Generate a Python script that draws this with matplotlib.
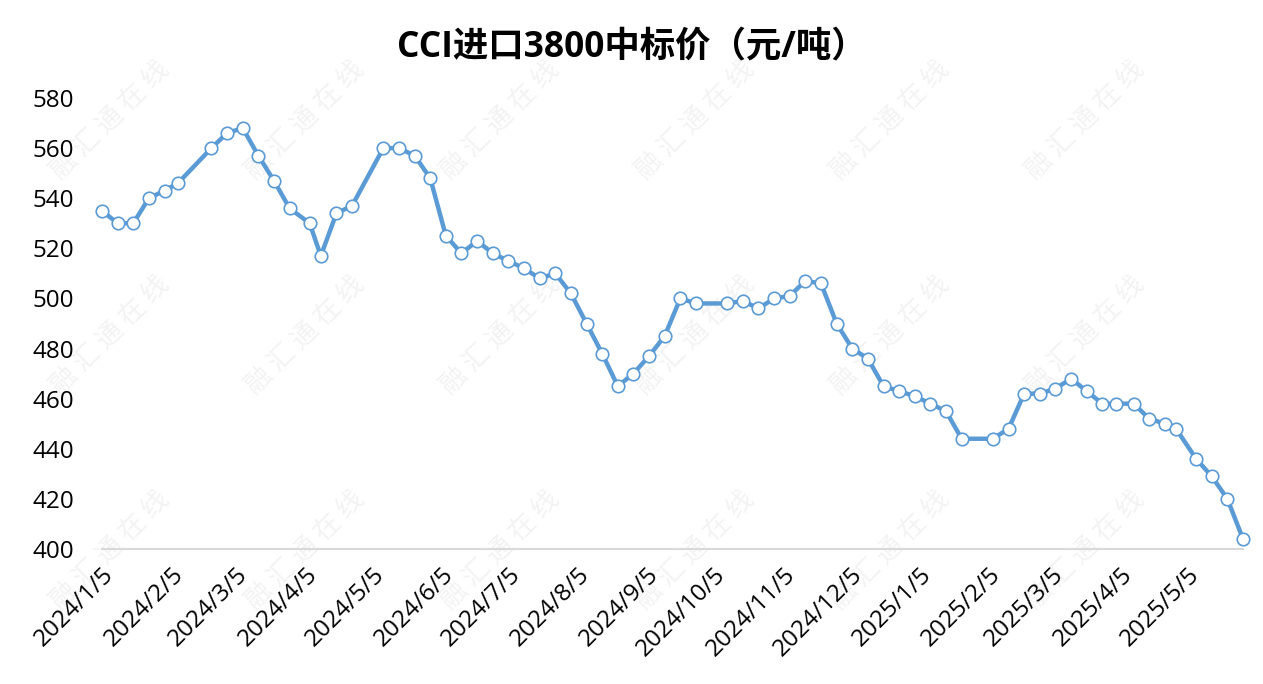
import matplotlib.pyplot as plt
import pandas as pd

# weekly CCI import 3800 bid price, yuan/ton
dates = [
    "2024/1/5", "2024/1/12", "2024/1/19", "2024/1/26", "2024/2/2", "2024/2/8",
    "2024/2/23", "2024/3/1", "2024/3/8", "2024/3/15", "2024/3/22", "2024/3/29",
    "2024/4/7", "2024/4/12", "2024/4/19", "2024/4/26", "2024/5/10", "2024/5/17",
    "2024/5/24", "2024/5/31", "2024/6/7", "2024/6/14", "2024/6/21", "2024/6/28",
    "2024/7/5", "2024/7/12", "2024/7/19", "2024/7/26", "2024/8/2", "2024/8/9",
    "2024/8/16", "2024/8/23", "2024/8/30", "2024/9/6", "2024/9/13", "2024/9/20",
    "2024/9/27", "2024/10/11", "2024/10/18", "2024/10/25", "2024/11/1", "2024/11/8",
    "2024/11/15", "2024/11/22", "2024/11/29", "2024/12/6", "2024/12/13", "2024/12/20",
    "2024/12/27", "2025/1/3", "2025/1/10", "2025/1/17", "2025/1/24", "2025/2/7",
    "2025/2/14", "2025/2/21", "2025/2/28", "2025/3/7", "2025/3/14", "2025/3/21",
    "2025/3/28", "2025/4/3", "2025/4/11", "2025/4/18", "2025/4/25", "2025/4/30",
    "2025/5/9", "2025/5/16", "2025/5/23", "2025/5/30",
]
prices = [
    535, 530, 530, 540, 543, 546,
    560, 566, 568, 557, 547, 536,
    530, 517, 534, 537, 560, 560,
    557, 548, 525, 518, 523, 518,
    515, 512, 508, 510, 502, 490,
    478, 465, 470, 477, 485, 500,
    498, 498, 499, 496, 500, 501,
    507, 506, 490, 480, 476, 465,
    463, 461, 458, 455, 444, 444,
    448, 462, 462, 464, 468, 463,
    458, 458, 458, 452, 450, 448,
    436, 429, 420, 404,
]
tick_labels = [
    "2024/1/5", "2024/2/5", "2024/3/5", "2024/4/5", "2024/5/5", "2024/6/5",
    "2024/7/5", "2024/8/5", "2024/9/5", "2024/10/5", "2024/11/5", "2024/12/5",
    "2025/1/5", "2025/2/5", "2025/3/5", "2025/4/5", "2025/5/5",
]
title = "CCI进口3800中标价（元/吨）"
watermark = "融 汇 通 在 线"

plt.rcParams['font.family'] = ['Open Sans', 'Noto Sans CJK SC', 'DejaVu Sans']

fig = plt.figure(figsize=(12.63, 6.84), dpi=100)

# faint diagonal watermark on a background layer
bg = fig.add_axes([0, 0, 1, 1], zorder=-1)
bg.set_axis_off()
bg.set_xlim(0, 1263)
bg.set_ylim(684, 0)
for gx in range(110, 1200, 195):
    for gy in range(120, 640, 215):
        bg.text(gx, gy, watermark, fontsize=19, color='#f3f3f3',
                rotation=45, ha='center', va='center',
                family=['Noto Sans CJK SC'])

ax = fig.add_axes([102 / 1263, 1 - 549 / 684, (1243 - 102) / 1263, (549 - 98) / 684])
ax.patch.set_alpha(0)

x = pd.to_datetime(dates, format='%Y/%m/%d')
ax.plot(x, prices, color='#5b9bd5', lw=3.2, marker='o', ms=9,
        mfc='white', mec='#5b9bd5', mew=1.2, clip_on=False, zorder=3)

ax.set_xlim(x[0], x[-1])
ax.set_ylim(400, 580)
ax.set_yticks(range(400, 581, 20))

ax.set_xticks(pd.to_datetime(tick_labels, format='%Y/%m/%d'))
ax.set_xticklabels(tick_labels, rotation=45, ha='right', rotation_mode='anchor')

for s in ['top', 'right', 'left']:
    ax.spines[s].set_visible(False)
ax.spines['bottom'].set_color('#d9d9d9')
ax.spines['bottom'].set_linewidth(1.5)
ax.tick_params(axis='both', length=0, labelsize=17.5, colors='black')
ax.tick_params(axis='y', pad=20)
ax.tick_params(axis='x', pad=10)

fig.text(0.5, 1 - 48 / 684, title, ha='center', va='center',
         fontsize=25.5, fontweight='bold')

plt.savefig('out.png', dpi=100)
plt.close()
